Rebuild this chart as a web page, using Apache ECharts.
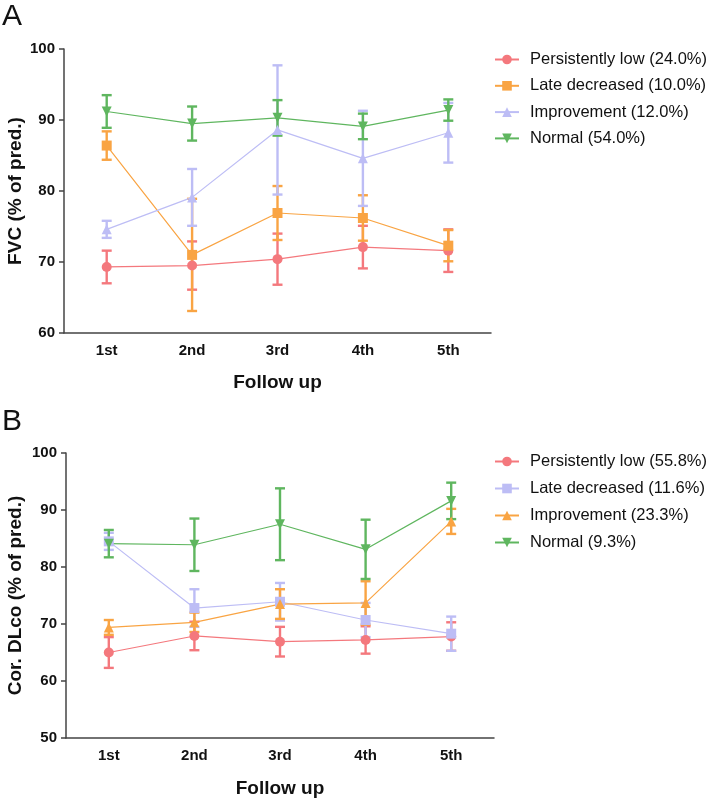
<!DOCTYPE html>
<html><head><meta charset="utf-8">
<script src="https://cdn.jsdelivr.net/npm/echarts@6/dist/echarts.min.js"></script>
<style>html,body{margin:0;padding:0;background:#fff}#c{width:709px;height:800px}</style>
</head><body><div id="c"></div>
<script>
// ---- data ----
const categories = ['1st', '2nd', '3rd', '4th', '5th'];

// Panel A: FVC (% of pred.)
const namesA = ['Persistently low (24.0%)', 'Late decreased (10.0%)', 'Improvement (12.0%)', 'Normal (54.0%)'];
const fvcLow = [69.3, 69.5, 70.4, 72.1, 71.6];
const fvcLowErr = [2.3, 3.4, 3.6, 3.0, 3.0];
const fvcLate = [86.4, 71.0, 76.9, 76.2, 72.3];
const fvcLateErr = [2.0, 7.9, 3.8, 3.2, 2.2];
const fvcImp = [74.6, 79.1, 88.6, 84.6, 88.2];
const fvcImpErr = [1.2, 4.0, 9.1, 6.7, 4.2];
const fvcNorm = [91.2, 89.5, 90.3, 89.1, 91.4];
const fvcNormErr = [2.3, 2.4, 2.5, 1.8, 1.5];

// Panel B: Cor. DLco (% of pred.)
const namesB = ['Persistently low (55.8%)', 'Late decreased (11.6%)', 'Improvement (23.3%)', 'Normal (9.3%)'];
const dlLow = [65.0, 67.9, 66.9, 67.2, 67.8];
const dlLowErr = [2.7, 2.5, 2.6, 2.4, 2.5];
const dlLate = [84.5, 72.8, 73.9, 70.7, 68.3];
const dlLateErr = [1.5, 3.3, 3.3, 3.0, 3.0];
const dlImp = [69.4, 70.3, 73.5, 73.7, 88.0];
const dlImpErr = [1.3, 1.7, 2.6, 3.8, 2.2];
const dlNorm = [84.1, 83.9, 87.5, 83.1, 91.6];
const dlNormErr = [2.4, 4.6, 6.3, 5.2, 3.2];

const yTicksA = {min: 60, max: 100, interval: 10};
const yTicksB = {min: 50, max: 100, interval: 10};

// ---- styles ----
const PINK = '#f4787d', ORANGE = '#f9a443', LAV = '#bdbdf5', GREEN = '#5fb65f';
const FONT = 'Liberation Sans, Arial, sans-serif';

function errData(mean, err) {
  return mean.map((m, i) => [i, m - err[i], m + err[i]]);
}
function errSeries(mean, err, color, gi) {
  return {
    type: 'custom', xAxisIndex: gi, yAxisIndex: gi, silent: true, z: 3,
    encode: {x: 0, y: [1, 2]},
    data: errData(mean, err),
    renderItem: function (params, api) {
      const lo = api.coord([api.value(0), api.value(1)]);
      const hi = api.coord([api.value(0), api.value(2)]);
      const hw = 5;
      const st = {stroke: color, lineWidth: 2.4, fill: null};
      return {type: 'group', children: [
        {type: 'line', shape: {x1: lo[0], y1: lo[1], x2: hi[0], y2: hi[1]}, style: st},
        {type: 'line', shape: {x1: lo[0] - hw, y1: lo[1], x2: lo[0] + hw, y2: lo[1]}, style: st},
        {type: 'line', shape: {x1: hi[0] - hw, y1: hi[1], x2: hi[0] + hw, y2: hi[1]}, style: st}
      ]};
    }
  };
}
function lineSeries(name, mean, color, symbol, rot, gi) {
  return {
    name: name, type: 'line', xAxisIndex: gi, yAxisIndex: gi, data: mean, z: 4,
    symbol: symbol, symbolSize: 10, symbolRotate: rot,
    lineStyle: {color: color, width: 1.2}, itemStyle: {color: color},
    emphasis: {disabled: true}, animation: false
  };
}

const axisLineStyle = {lineStyle: {color: '#444', width: 1.5}};
function xAxis(gi, gap) {
  return {
    type: 'category', gridIndex: gi, data: categories, boundaryGap: true,
    name: 'Follow up', nameLocation: 'middle', nameGap: gap,
    nameTextStyle: {fontFamily: FONT, fontSize: 19, fontWeight: 'bold', color: '#111'},
    axisLine: axisLineStyle,
    axisTick: {alignWithLabel: true, length: 5, lineStyle: {color: '#444', width: 1.5}},
    axisLabel: {fontFamily: FONT, fontSize: 15, fontWeight: 'bold', color: '#111', margin: 10}
  };
}
function yAxis(gi, t, name, gap) {
  return {
    type: 'value', gridIndex: gi, min: t.min, max: t.max, interval: t.interval,
    name: name, nameLocation: 'middle', nameGap: gap, nameMoveOverlap: false,
    nameTextStyle: {fontFamily: FONT, fontSize: 19, fontWeight: 'bold', color: '#111'},
    axisLine: {show: true, lineStyle: {color: '#444', width: 1.5}},
    axisTick: {show: true, length: 5, lineStyle: {color: '#444', width: 1.5}},
    splitLine: {show: false},
    axisLabel: {fontFamily: FONT, fontSize: 15, fontWeight: 'bold', color: '#111', margin: 9}
  };
}
function legend(names, top, gap) {
  return {
    data: names, orient: 'vertical', left: 494, top: top, padding: 0,
    itemWidth: 24, itemHeight: 12, itemGap: gap,
    selectedMode: false,
    textStyle: {fontFamily: FONT, fontSize: 16.5, color: '#111', lineHeight: 16, padding: [0, 0, 0, 6]}
  };
}

const option = {
  animation: false,
  backgroundColor: '#fff',
  title: [
    {text: 'A', left: 2, top: 2, padding: 0, textStyle: {fontFamily: FONT, fontSize: 30, fontWeight: 'normal', color: '#111'}},
    {text: 'B', left: 2, top: 407, padding: 0, textStyle: {fontFamily: FONT, fontSize: 30, fontWeight: 'normal', color: '#111'}}
  ],
  legend: [legend(namesA, 51, 9.3), legend(namesB, 453, 10)],
  grid: [
    {left: 64, top: 49, width: 427, height: 284, outerBoundsMode: 'none', containLabel: false},
    {left: 66, top: 453, width: 428, height: 285, outerBoundsMode: 'none', containLabel: false}
  ],
  xAxis: [xAxis(0, 40), xAxis(1, 41)],
  yAxis: [yAxis(0, yTicksA, 'FVC (% of pred.)', 39), yAxis(1, yTicksB, 'Cor. DLco (% of pred.)', 41)],
  series: [
    errSeries(fvcLow, fvcLowErr, PINK, 0),
    errSeries(fvcLate, fvcLateErr, ORANGE, 0),
    errSeries(fvcImp, fvcImpErr, LAV, 0),
    errSeries(fvcNorm, fvcNormErr, GREEN, 0),
    lineSeries(namesA[0], fvcLow, PINK, 'circle', 0, 0),
    lineSeries(namesA[1], fvcLate, ORANGE, 'rect', 0, 0),
    lineSeries(namesA[2], fvcImp, LAV, 'triangle', 0, 0),
    lineSeries(namesA[3], fvcNorm, GREEN, 'triangle', 180, 0),
    errSeries(dlLow, dlLowErr, PINK, 1),
    errSeries(dlLate, dlLateErr, LAV, 1),
    errSeries(dlImp, dlImpErr, ORANGE, 1),
    errSeries(dlNorm, dlNormErr, GREEN, 1),
    lineSeries(namesB[0], dlLow, PINK, 'circle', 0, 1),
    lineSeries(namesB[1], dlLate, LAV, 'rect', 0, 1),
    lineSeries(namesB[2], dlImp, ORANGE, 'triangle', 0, 1),
    lineSeries(namesB[3], dlNorm, GREEN, 'triangle', 180, 1)
  ]
};
const chart = echarts.init(document.getElementById('c'), null, {renderer: 'canvas'});
chart.setOption(option);
</script>
</body></html>
